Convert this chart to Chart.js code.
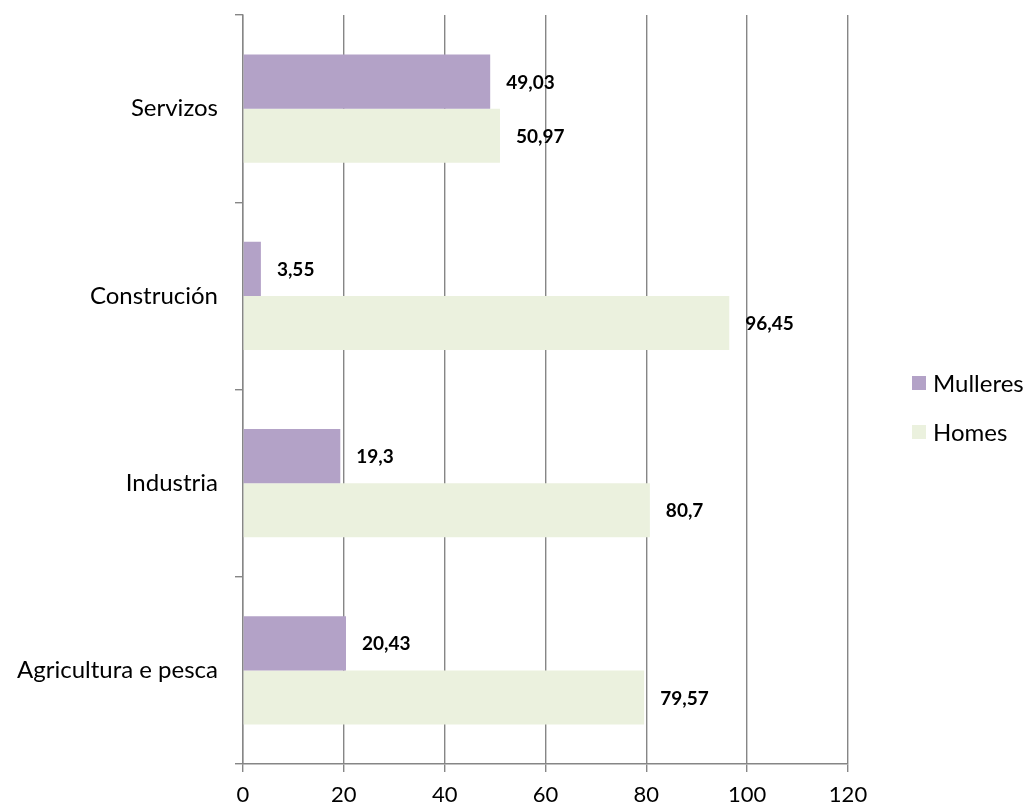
<!DOCTYPE html>
<html>
<head>
<meta charset="utf-8">
<script src="https://cdn.jsdelivr.net/npm/chart.js@4/dist/chart.umd.min.js"></script>
<style>
  html, body { margin: 0; padding: 0; background: #fff; }
  #wrap { width: 1030px; height: 809px; position: relative; }
</style>
</head>
<body>
<div id="wrap"><canvas id="grafico"></canvas></div>
<script>
// Sectores e porcentaxes por sexo
const sectores = ['Servizos', 'Construción', 'Industria', 'Agricultura e pesca'];
const mulleres = [49.03, 3.55, 19.3, 20.43];
const homes = [50.97, 96.45, 80.7, 79.57];
const eixoX = [0, 20, 40, 60, 80, 100, 120];

const fonte = 'Lato, "Open Sans", sans-serif';
const grella = '#868686';

// etiquetas de valor ao final de cada barra (coma decimal)
const etiquetasValor = {
  id: 'etiquetasValor',
  afterDatasetsDraw(chart) {
    const ctx = chart.ctx;
    ctx.save();
    ctx.font = 'bold 19px ' + fonte;
    ctx.fillStyle = '#000';
    ctx.textBaseline = 'middle';
    ctx.textAlign = 'left';
    chart.data.datasets.forEach((ds, i) => {
      chart.getDatasetMeta(i).data.forEach((bar, j) => {
        const txt = String(ds.data[j]).replace('.', ',');
        ctx.fillText(txt, bar.x + 16, bar.y + 1);
      });
    });
    ctx.restore();
  }
};

// lenda á dereita
const lenda = {
  id: 'lenda',
  afterDraw(chart) {
    const ctx = chart.ctx;
    ctx.save();
    ctx.font = '24px ' + fonte;
    ctx.textBaseline = 'middle';
    chart.data.datasets.forEach((ds, i) => {
      const y = 383 + i * 49;
      ctx.fillStyle = ds.backgroundColor;
      ctx.fillRect(912, y - 7, 14, 14);
      ctx.fillStyle = '#000';
      ctx.fillText(ds.label, 933, y + 1);
    });
    ctx.restore();
  }
};

new Chart(document.getElementById('grafico'), {
  type: 'bar',
  data: {
    labels: sectores,
    datasets: [
      { label: 'Mulleres', data: mulleres, backgroundColor: '#B3A2C7', barPercentage: 1, categoryPercentage: 0.578 },
      { label: 'Homes', data: homes, backgroundColor: '#EBF1DE', barPercentage: 1, categoryPercentage: 0.578 }
    ]
  },
  options: {
    indexAxis: 'y',
    responsive: true,
    maintainAspectRatio: false,
    animation: false,
    layout: { padding: { top: 15, right: 182, left: 0, bottom: 0 } },
    plugins: {
      legend: { display: false },
      tooltip: { enabled: false }
    },
    scales: {
      x: {
        min: 0,
        max: 120,
        afterBuildTicks(axis) { axis.ticks = eixoX.map(v => ({ value: v })); },
        afterFit(axis) { axis.height = 45; },
        grid: { color: grella, lineWidth: 1.4, tickLength: 8 },
        border: { color: grella, width: 1.4 },
        ticks: { font: { family: fonte, size: 22 }, color: '#000', padding: 10 }
      },
      y: {
        afterFit(axis) {
          axis.width = 243;
          axis.paddingTop = 0;
          axis.paddingBottom = 0;
        },
        grid: { offset: true, drawOnChartArea: false, color: grella, tickLength: 8, lineWidth: 1.4 },
        border: { color: grella, width: 1.4 },
        ticks: { font: { family: fonte, size: 24 }, color: '#000', padding: 17 }
      }
    }
  },
  plugins: [etiquetasValor, lenda]
});
</script>
</body>
</html>
